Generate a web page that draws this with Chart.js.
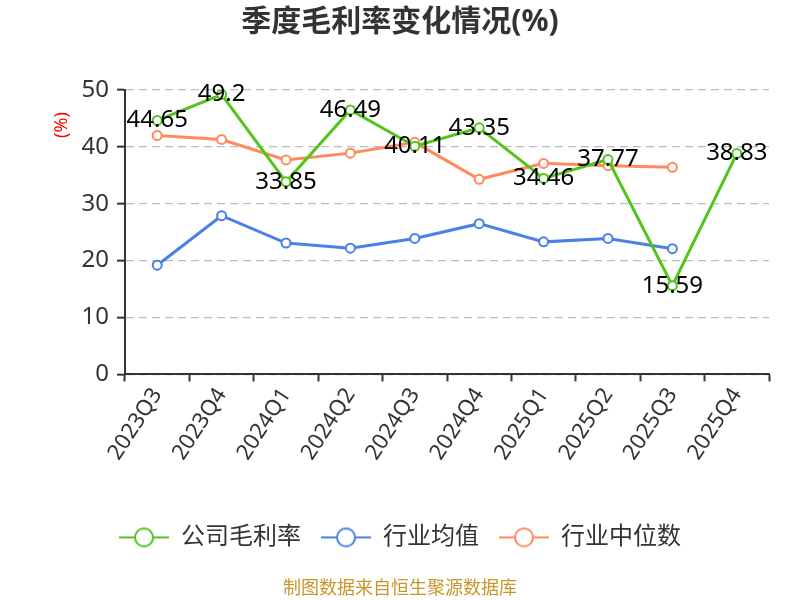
<!DOCTYPE html>
<html>
<head>
<meta charset="utf-8">
<script src="https://cdn.jsdelivr.net/npm/chart.js@4.4.1/dist/chart.umd.min.js"></script>
<style>
  html, body { margin: 0; padding: 0; background: #fff; }
  #wrap { width: 800px; height: 600px; }
</style>
</head>
<body>
<div id="wrap"><canvas id="chart"></canvas></div>
<script>
const quarters       = ['2023Q3', '2023Q4', '2024Q1', '2024Q2', '2024Q3', '2024Q4', '2025Q1', '2025Q2', '2025Q3', '2025Q4'];
const companyMargin  = [44.65, 49.2, 33.85, 46.49, 40.11, 43.35, 34.46, 37.77, 15.59, 38.83];
const industryAvg    = [19.2, 27.9, 23.1, 22.2, 23.9, 26.5, 23.3, 23.9, 22.1, null];
const industryMedian = [42.0, 41.3, 37.7, 38.9, 40.8, 34.3, 37.1, 36.7, 36.4, null];
const seriesNames    = ['公司毛利率', '行业均值', '行业中位数'];
const yTicks         = { min: 0, max: 50, step: 10 };

const FONT = '"Noto Sans", "Noto Sans CJK SC", sans-serif';
const GREEN  = '#52C41A';
const BLUE   = '#4A80E8';
const ORANGE = '#FF8A5B';
const AXIS   = '#333333';

// legend symbol: short line with a hollow circle in the middle
function legendIcon(color) {
  const c = document.createElement('canvas');
  c.width = 50; c.height = 22;
  const g = c.getContext('2d');
  g.strokeStyle = color;
  g.lineWidth = 2;
  g.beginPath(); g.moveTo(0, 11); g.lineTo(50, 11); g.stroke();
  g.beginPath(); g.arc(25, 11, 9, 0, Math.PI * 2);
  g.fillStyle = '#fff'; g.fill(); g.stroke();
  return c;
}
const icons = [legendIcon(GREEN), legendIcon(BLUE), legendIcon(ORANGE)];

// value labels on the company series, centred on each point
const valueLabels = {
  id: 'valueLabels',
  afterDatasetsDraw(chart) {
    const meta = chart.getDatasetMeta(0);
    const ctx = chart.ctx;
    ctx.save();
    ctx.font = '24px ' + FONT;
    ctx.fillStyle = '#000';
    ctx.textAlign = 'center';
    ctx.textBaseline = 'middle';
    meta.data.forEach((pt, i) => {
      const v = companyMargin[i];
      if (v == null) return;
      ctx.fillText(String(v), pt.x, pt.y);
    });
    ctx.restore();
  }
};

// red unit label left of the y axis
const unitLabel = {
  id: 'unitLabel',
  afterDraw(chart) {
    const ctx = chart.ctx;
    ctx.save();
    ctx.translate(62, chart.chartArea.top + 35);
    ctx.rotate(-Math.PI / 2);
    ctx.font = '18px ' + FONT;
    ctx.fillStyle = '#ff0000';
    ctx.textAlign = 'center';
    ctx.textBaseline = 'middle';
    ctx.fillText('(%)', 0, 0);
    ctx.restore();
  }
};

function line(label, data, color) {
  return {
    label, data,
    borderColor: color,
    backgroundColor: color,
    borderWidth: 3,
    pointRadius: 4.5,
    pointBorderWidth: 2,
    pointBackgroundColor: '#fff',
    pointBorderColor: color,
    tension: 0,
    fill: false,
    spanGaps: false,
  };
}

const ctx = document.getElementById('chart').getContext('2d');
new Chart(ctx, {
  type: 'line',
  data: {
    labels: quarters,
    datasets: [
      line(seriesNames[0], companyMargin, GREEN),
      line(seriesNames[1], industryAvg, BLUE),
      line(seriesNames[2], industryMedian, ORANGE),
    ],
  },
  options: {
    animation: false,
    responsive: true,
    maintainAspectRatio: false,
    layout: { padding: 0 },
    scales: {
      x: {
        offset: true,
        grid: { offset: true, drawOnChartArea: false, color: AXIS, tickLength: 7, tickWidth: 2 },
        border: { color: AXIS, width: 2 },
        ticks: {
          autoSkip: false, maxRotation: 57, minRotation: 57,
          color: AXIS, font: { family: FONT, size: 22 }, padding: 2,
        },
        afterFit: (s) => { s.height = 131; },
      },
      y: {
        min: yTicks.min, max: yTicks.max,
        grid: {
          color: '#bdbdbd', lineWidth: 1.3,
          tickLength: 8, tickColor: AXIS, tickBorderDash: [], tickWidth: 2,
        },
        border: { color: AXIS, width: 2, dash: [8, 5] },
        ticks: { stepSize: yTicks.step, color: AXIS, font: { family: FONT, size: 24 }, padding: 8 },
        afterFit: (s) => { s.width = 125; },
      },
      // empty right-hand spacer so the plot ends where the reference does
      yRight: {
        position: 'right',
        grid: { display: false },
        border: { display: false },
        ticks: { display: false },
        afterFit: (s) => { s.width = 31; },
      },
    },
    plugins: {
      title: {
        display: true, text: '季度毛利率变化情况(%)', color: '#333',
        font: { family: FONT, size: 30, weight: 'bold' },
        padding: { top: 4, bottom: 50 },
      },
      subtitle: {
        display: true, position: 'bottom', text: '制图数据来自恒生聚源数据库', color: '#C8962A',
        font: { family: FONT, size: 18 },
        padding: { top: 19, bottom: 0 },
      },
      legend: {
        position: 'bottom',
        labels: {
          color: '#333', font: { family: FONT, size: 24 },
          usePointStyle: true, pointStyleWidth: 50, padding: 20,
          generateLabels: (chart) =>
            Chart.defaults.plugins.legend.labels.generateLabels(chart)
              .map((l, i) => ({ ...l, pointStyle: icons[i] })),
        },
      },
      tooltip: { enabled: false },
    },
  },
  plugins: [valueLabels, unitLabel],
});
</script>
</body>
</html>
